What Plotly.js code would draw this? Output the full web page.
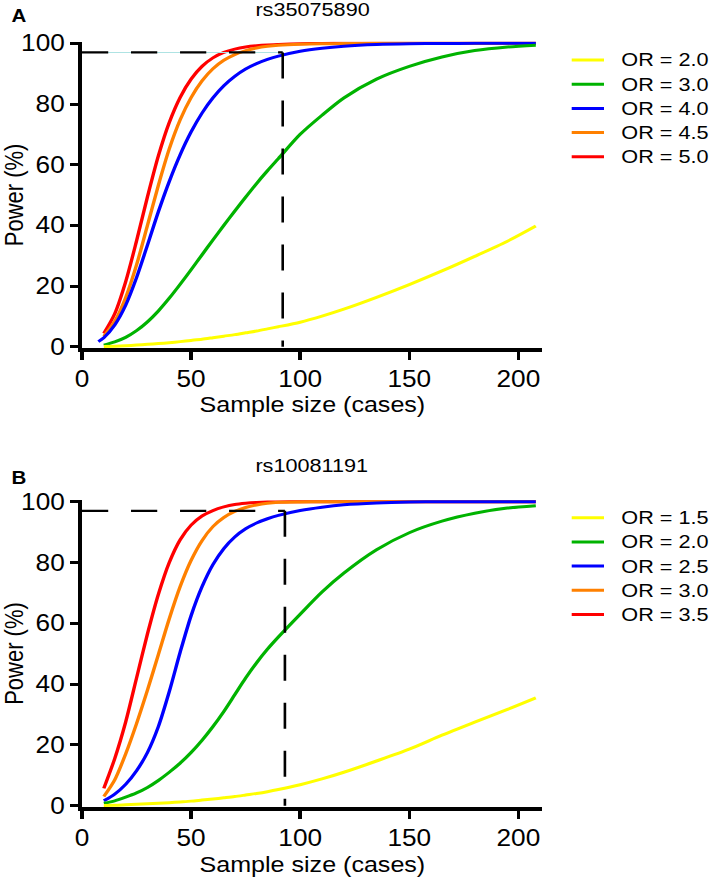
<!DOCTYPE html>
<html>
<head>
<meta charset="utf-8">
<script src="https://cdn.plot.ly/plotly-3.0.1.min.js"></script>
<style>
html, body { margin:0; padding:0; background:#ffffff; overflow:hidden; }
#wrap { width:709px; height:880px; overflow:hidden; position:relative; }
#chart { width:622px; height:880px; transform:scaleX(1.14); transform-origin:0 0; }
</style>
</head>
<body>
<div id="wrap"><div id="chart"></div></div>
<script>
// ---------------- DATA ----------------
var sampleSize = [10,15,20,25,30,35,40,45,50,55,60,65,70,75,80,85,90,100,110,120,135,150,165,180,195,208];
var sampleSizeBlueA = [7.5,10,15,20,25,30,35,40,45,50,55,60,65,70,75,80,85,90,100,110,120,135,150,165,180,195,208];

// Panel A: rs35075890
var titleA = 'rs35075890';
var namesA = ['OR = 2.0','OR = 3.0','OR = 4.0','OR = 4.5','OR = 5.0'];
var powerA_OR20 = [0.1,0.2,0.35,0.55,0.8,1.05,1.35,1.7,2.1,2.5,3,3.5,4,4.6,5.2,5.9,6.6,8.1,10.1,12.4,16.3,20.5,25,29.8,34.8,39.8];
var powerA_OR30 = [0.5,1.6,3.1,5.3,8.2,11.8,16,20.6,25.4,30.3,35.2,40,44.7,49.3,53.8,58,62,70,76.3,82,88.2,92.4,95.5,97.6,98.8,99.4];
var powerA_OR40 = [1.7,3,7.2,13.7,22.8,33.5,44.5,54.5,63.3,70.8,77,82,86,89.1,91.5,93.3,94.7,95.8,97.4,98.4,99.05,99.6,99.85,99.95,100,100,100];
var powerA_OR45 = [3.4,8.4,16.2,27,40,53.2,65.2,74.8,82.1,87.6,91.6,94.4,96.3,97.6,98.45,99,99.35,99.7,99.85,99.9,100,100,100,100,100,100];
var powerA_OR50 = [4.4,10.9,21.4,34.9,49.4,62.9,73.9,82.2,88.2,92.4,95.2,97,98.1,98.8,99.2,99.45,99.6,99.85,99.95,100,100,100,100,100,100,100];
var cutoffA = 92;

// Panel B: rs10081191
var titleB = 'rs10081191';
var namesB = ['OR = 1.5','OR = 2.0','OR = 2.5','OR = 3.0','OR = 3.5'];
var powerB_OR15 = [0.1,0.15,0.3,0.45,0.6,0.8,1,1.25,1.5,1.85,2.2,2.6,3,3.5,4,4.6,5.3,6.9,8.8,11,14.7,18.6,23.2,27.5,31.7,35.5];
var powerB_OR20 = [0.8,1.6,2.8,4.2,6,8.3,11,14,17.5,21.5,26,31,36.5,42,47,51.5,55.5,63,70.3,76.5,84.2,89.8,93.6,96.2,97.9,98.7];
var powerB_OR25 = [1.6,3.8,7,11.5,17.5,26,37.5,50.5,62.5,72,79.3,84.6,88.4,91.1,93,94.4,95.5,97.1,98.2,99,99.6,99.9,100,100,100,100];
var powerB_OR30 = [3,8.5,17,27,38,49.7,61.5,72.1,80.7,87.2,91.8,94.8,96.8,98.1,98.95,99.5,99.8,99.95,100,100,100,100,100,100,100,100];
var powerB_OR35 = [5.7,15.5,27.5,42,56.5,69.5,80,87.5,92.3,95.3,97.1,98.3,99.1,99.5,99.75,99.9,99.95,100,100,100,100,100,100,100,100,100];
var cutoffB = 93;

var targetPower = 97;
var xTicks = [0,50,100,150,200];
var yTicks = [0,20,40,60,80,100];
var xTitle = 'Sample size (cases)';
var yTitle = 'Power (%)';

// ---------------- STYLE ----------------
var COLORS = ['#ffff00','#00b300','#0000ff','#ff8000','#ff0000'];
var FONT = 'Arial, "Liberation Sans", Helvetica, sans-serif';
var SX = 1.14, W = 622, H = 880;
function fx(p){ return p / SX / W; }   // reference px -> paper x
function fy(p){ return 1 - p / H; }     // reference px -> paper y

var xDom = [fx(82), fx(541.7)];
var yDomA = [fy(348.3), fy(41.5)];
var yDomB = [fy(807.2), fy(499.9)];

function curve(x, y, color, xa, ya){
  return {x:x, y:y, xaxis:xa, yaxis:ya, type:'scatter', mode:'lines',
          line:{color:color, width:3, shape:'spline', smoothing:0.8},
          hoverinfo:'skip', showlegend:false};
}
function dashed(x, y, xa, ya, dash, color, width){
  return {x:x, y:y, xaxis:xa, yaxis:ya, type:'scatter', mode:'lines',
          line:{color:color||'#000000', width:width||2.3, dash:dash},
          hoverinfo:'skip', showlegend:false};
}

var seriesA = [powerA_OR20, powerA_OR30, powerA_OR40, powerA_OR45, powerA_OR50];
var seriesB = [powerB_OR15, powerB_OR20, powerB_OR25, powerB_OR30, powerB_OR35];
var xsA = [sampleSize, sampleSize, sampleSizeBlueA, sampleSize, sampleSize];

var traces = [];
for (var i = 4; i >= 0; i--) traces.push(curve(xsA[i], seriesA[i], COLORS[i], 'x', 'y'));
for (var j = 4; j >= 0; j--) traces.push(curve(sampleSize, seriesB[j], COLORS[j], 'x2', 'y2'));

// reference (dashed) lines
traces.push(dashed([0, cutoffA], [targetPower, targetPower], 'x', 'y', 'solid', '#aee3e3', 1));
traces.push(dashed([0, cutoffA], [targetPower, targetPower], 'x', 'y', '23px,20px'));
traces.push(dashed([cutoffA, cutoffA], [targetPower, 0], 'x', 'y', '26px,22px'));
traces.push(dashed([0, cutoffB], [targetPower, targetPower], 'x2', 'y2', '23px,20px'));
traces.push(dashed([cutoffB, cutoffB], [targetPower, 0], 'x2', 'y2', '26px,22px'));

function xAxis(domain, anchor){
  return {domain:domain, anchor:anchor, range:[0,210.7], tickvals:xTicks, ticktext:xTicks.map(String),
          showline:true, linecolor:'#000', linewidth:3.5, ticks:'outside', ticklen:8, tickwidth:3, tickcolor:'#000',
          showgrid:false, zeroline:false, automargin:false, fixedrange:true,
          tickfont:{family:FONT, size:23, color:'#000'}};
}
function yAxis(domain, anchor){
  return {domain:domain, anchor:anchor, range:[-0.5,100.6], tickvals:yTicks, ticktext:yTicks.map(String),
          showline:true, linecolor:'#000', linewidth:3.5, ticks:'outside', ticklen:7, tickwidth:3, tickcolor:'#000',
          showgrid:false, zeroline:false, automargin:false, fixedrange:true,
          tickfont:{family:FONT, size:23, color:'#000'},
          title:{text:yTitle, font:{family:FONT, size:22, color:'#000'}}};
}

var annotations = [];
var shapes = [];
var xc = (xDom[0] + xDom[1]) / 2;
function txt(t, x, y, size, anchor){
  annotations.push({text:t, xref:'paper', yref:'paper', x:x, y:y, xanchor:anchor||'center', yanchor:'middle',
                    showarrow:false, font:{family:FONT, size:size, color:'#000'}});
}
txt(titleA, xc, fy(9.5), 19);
txt(titleB, xc, fy(465), 19);
txt('<b>A</b>', fx(18.3), fy(16), 18);
txt('<b>B</b>', fx(18.3), fy(477.5), 18);
txt(xTitle, xc, fy(404), 22);
txt(xTitle, xc, fy(864), 22);

function legend(names, top){
  for (var k = 0; k < names.length; k++){
    var yy = top + k * 24.2;
    shapes.push({type:'line', xref:'paper', yref:'paper', x0:fx(571.7), x1:fx(604), y0:fy(yy), y1:fy(yy),
                 line:{color:COLORS[k], width:3}});
    txt(names[k], fx(619), fy(yy), 19, 'left');
  }
}
legend(namesA, 60);
legend(namesB, 517.7);

var layout = {
  width:W, height:H, autosize:false,
  margin:{l:0, r:0, t:0, b:0, pad:0},
  paper_bgcolor:'#ffffff', plot_bgcolor:'#ffffff',
  showlegend:false,
  font:{family:FONT, color:'#000'},
  xaxis:xAxis(xDom, 'y'), yaxis:yAxis(yDomA, 'x'),
  xaxis2:xAxis(xDom, 'y2'), yaxis2:yAxis(yDomB, 'x2'),
  annotations:annotations, shapes:shapes
};

Plotly.newPlot('chart', traces, layout, {staticPlot:true, displayModeBar:false});
</script>
</body>
</html>
